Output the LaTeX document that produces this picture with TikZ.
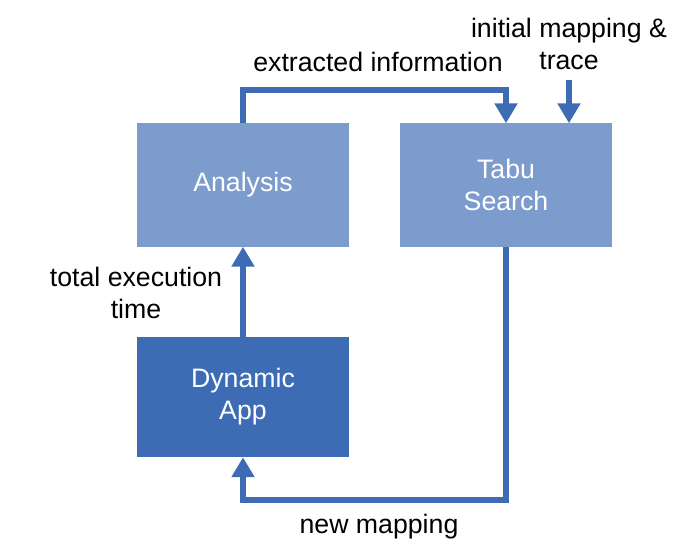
\documentclass[tikz,border=0pt]{standalone}
\usepackage{fontspec}
\setmainfont{Liberation Sans}
\usetikzlibrary{arrows.meta}
\definecolor{boxlight}{RGB}{124,156,206}
\definecolor{boxdark}{RGB}{61,108,180}
\tikzset{
	block/.style={fill=#1, text=white, minimum width=212pt, minimum height=123pt, align=center, inner sep=0pt},
	flow/.style={draw=boxdark, line width=6pt, -{Triangle[width=22pt,length=20pt]}},
	lbl/.style={align=center, inner sep=0pt}
}
\begin{document}
\begin{tikzpicture}[x=1pt, y=-1pt, font=\fontsize{26.7}{32}\selectfont, line join=miter]
	\useasboundingbox (0,0) rectangle (685,559);
	% boxes
	\node[block=boxlight] (ana) at (243,185) {Analysis};
	\node[block=boxlight] (tabu) at (506,185) {Tabu\\Search};
	\node[block=boxdark, minimum height=120pt] (dyn) at (243,397) {Dynamic\\App};
	% labels
	\node[lbl] (extr) at (378,62) {extracted information};
	\node[lbl] (init) at (569,44) {initial mapping \&\\trace};
	\node[lbl] (total) at (136,293) {total execution\\time};
	\node[lbl] (newmap) at (379,527) {new mapping};
	\path (569,80) coordinate (initTop)
		(243,90) coordinate (topRun)
		(506,500) coordinate (botRun);
	% connectors
	\draw[flow] (ana.north) -- (topRun) -| (tabu.north);
	\draw[flow] (initTop) -- (initTop |- tabu.north);
	\draw[flow] (dyn.north) -- (ana.south);
	\draw[flow] (tabu.south) -- (botRun) -| (dyn.south);
\end{tikzpicture}
\end{document}
